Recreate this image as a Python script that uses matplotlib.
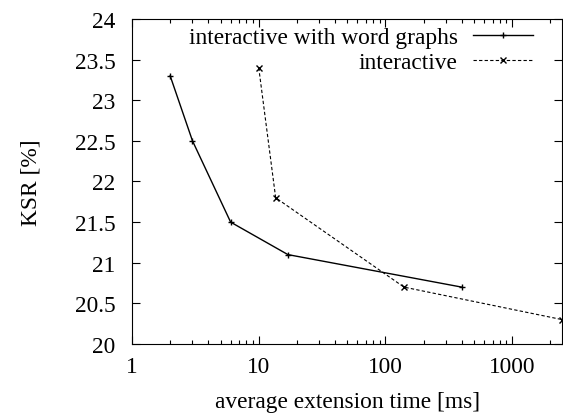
import matplotlib
matplotlib.use("Agg")
import matplotlib.pyplot as plt
from matplotlib.ticker import LogLocator, FixedLocator, NullFormatter

plt.rcParams['font.family'] = ['Liberation Serif', 'DejaVu Serif']
plt.rcParams['font.size'] = 16.8

# interactive with word graphs
wg_time = [2, 3, 6, 17, 400]
wg_ksr = [23.3, 22.5, 21.5, 21.1, 20.7]

# interactive
it_time = [10, 13.6, 140, 2480]
it_ksr = [23.4, 21.8, 20.7, 20.3]

x_ticks = [1, 10, 100, 1000]
x_labels = ["1", "10", "100", "1000"]
y_ticks = [20, 20.5, 21, 21.5, 22, 22.5, 23, 23.5, 24]
y_labels = ["20", "20.5", "21", "21.5", "22", "22.5", "23", "23.5", "24"]

fig = plt.figure(figsize=(5.63, 4.14), dpi=100)
ax = fig.add_axes([0.2345, 0.1667, 0.764, 0.785])

ax.plot(wg_time, wg_ksr, color='black', linestyle='-', linewidth=1.0,
        marker='+', markersize=5, markeredgewidth=1.0,
        label="interactive with word graphs")
ax.plot(it_time, it_ksr, color='black', linestyle=(0, (3, 2)), linewidth=0.8,
        marker='x', markersize=4, markeredgewidth=1.0,
        label="interactive")

ax.set_xscale('log')
ax.set_xlim(1, 2480)
ax.set_ylim(20, 24)
ax.xaxis.set_major_locator(FixedLocator(x_ticks))
ax.set_xticklabels(x_labels)
ax.xaxis.set_minor_locator(LogLocator(base=10, subs=range(2, 10)))
ax.xaxis.set_minor_formatter(NullFormatter())
ax.set_yticks(y_ticks)
ax.set_yticklabels(y_labels)

ax.tick_params(which='both', direction='in', top=True, right=True)
ax.tick_params(which='major', length=6, width=0.8)
ax.tick_params(which='minor', length=3, width=0.8)
ax.tick_params(axis='x', pad=9)
ax.tick_params(axis='y', pad=12)

ax.set_xlabel("average extension time [ms]", labelpad=10)
ax.set_ylabel("KSR [%]", labelpad=24)

ax.legend(loc='upper right', frameon=False, markerfirst=False,
          handlelength=2.6, borderaxespad=0.0, borderpad=0.0,
          labelspacing=0.15, handletextpad=0.65,
          bbox_to_anchor=(0.933, 0.975))

fig.savefig("out.png", dpi=100)
